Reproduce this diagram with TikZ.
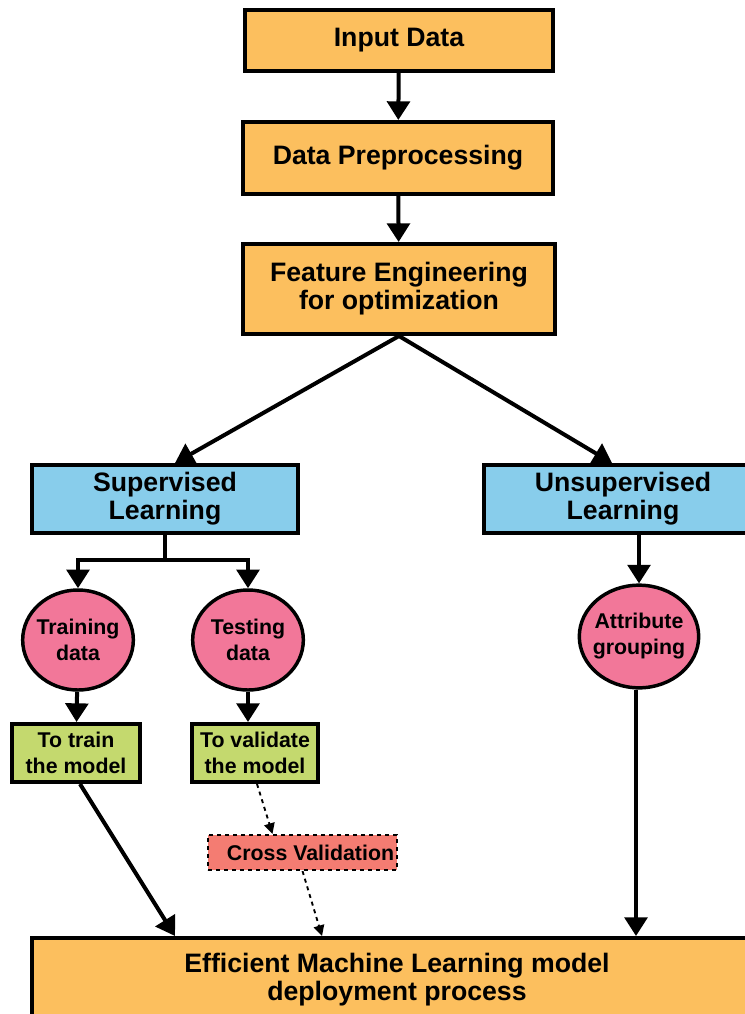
\documentclass[tikz,border=0pt]{standalone}
\usepackage{fontspec}
\setmainfont{Liberation Sans}
\usetikzlibrary{arrows.meta,calc,shapes.geometric}
\definecolor{boxorange}{HTML}{FCBF5E}
\definecolor{boxblue}{HTML}{88CDEB}
\definecolor{boxpink}{HTML}{F27799}
\definecolor{boxgreen}{HTML}{C4D96E}
\definecolor{boxsalmon}{HTML}{F47C72}
\tikzset{
  big/.style={font=\bfseries\fontsize{20}{21}\selectfont},
  small/.style={font=\bfseries\fontsize{16}{19.5}\selectfont},
  block/.style={draw, line width=3pt, align=center, inner sep=0pt},
  mainbox/.style={block, big, fill=boxorange},
  learnbox/.style={block, big, fill=boxblue},
  datanode/.style={ellipse, draw, line width=2.6pt, align=center, inner sep=-3pt, small, fill=boxpink},
  taskbox/.style={block, small, fill=boxgreen},
  cvbox/.style={draw, dashed, line width=1.6pt, small, fill=boxsalmon, inner sep=0pt},
  flow/.style={line width=3pt, -{Triangle[length=14pt,width=17pt]}},
  plainline/.style={line width=3pt},
  dashflow/.style={line width=1.4pt, dashed, -{Triangle[length=8pt,width=8pt]}}
}
\begin{document}
\begin{tikzpicture}[x=0.75pt,y=-0.75pt]
\useasboundingbox (0,0) rectangle (745,1014);
\clip (0,0) rectangle (745,1014);

% main pipeline
\node[mainbox, minimum width=231pt, minimum height=45.75pt] (in) at (399,40.5) {Input Data};
\node[mainbox, minimum width=232.5pt, minimum height=54pt] (pre) at (398,158) {Data Preprocessing};
\node[mainbox, minimum width=234pt, minimum height=67.5pt] (fe) at (399,289) {Feature Engineering\\for optimization};

% learning branches
\node[learnbox, minimum width=199.5pt, minimum height=51pt] (sl) at (165,499) {Supervised\\Learning};
\node[learnbox, minimum width=208.5pt, minimum height=51pt] (ul) at (623,499) {Unsupervised\\Learning};

% data nodes
\node[datanode, minimum width=83pt, minimum height=75pt] (td) at (78,640) {Training\\data};
\node[datanode, minimum width=83pt, minimum height=75pt] (sd) at (248,640) {Testing\\data};
\node[datanode, minimum width=83pt, minimum height=77pt] (ag) at (639,636.5) {Attribute\\grouping};

% tasks
\node[taskbox, minimum width=96pt, minimum height=43.5pt] (tt) at (76,753) {To train\\the model};
\node[taskbox, minimum width=94.5pt, minimum height=43.5pt] (tv) at (255,753) {To validate\\the model};
\node[cvbox, minimum width=141.75pt, minimum height=26.25pt] (cv) at (302.5,852.5) {\hspace{12pt}Cross Validation};

% deployment
\node[mainbox, minimum width=547.5pt, minimum height=63pt] (dep) at (397,980) {Efficient Machine Learning model\\deployment process};

% connectors
\draw[flow] (in) -- (pre);
\draw[flow] (pre) -- (fe);
\draw[flow] (fe.south) -- ($(sl.north)+(10,0)$);
\draw[flow] (fe.south) -- ($(ul.north)+(-11,0)$);

\draw[plainline] (sl.south) -- ++(0,25) coordinate (split);
\draw[flow] ([xshift=1.5pt]split) -| (td.north);
\draw[flow] ([xshift=-1.5pt]split) -| (sd.north);
\draw[flow] (ul.south -| ag.north) -- (ag.north);

\draw[flow] (td) -- (tt);
\draw[flow] (sd.south) -- (sd.south |- tv.north);

\draw[flow] ($(tt.south)+(4,0)$) -- ($(dep.north)+(-222,0)$);
\draw[dashflow] ($(tv.south)+(2,0)$) -- ($(cv.north)+(-30,0)$);
\draw[dashflow] (cv.south) -- ($(dep.north)+(-75,0)$);
\draw[flow] ($(ag.south)+(-3,0)$) -- ($(dep.north)+(239,0)$);
\end{tikzpicture}
\end{document}
